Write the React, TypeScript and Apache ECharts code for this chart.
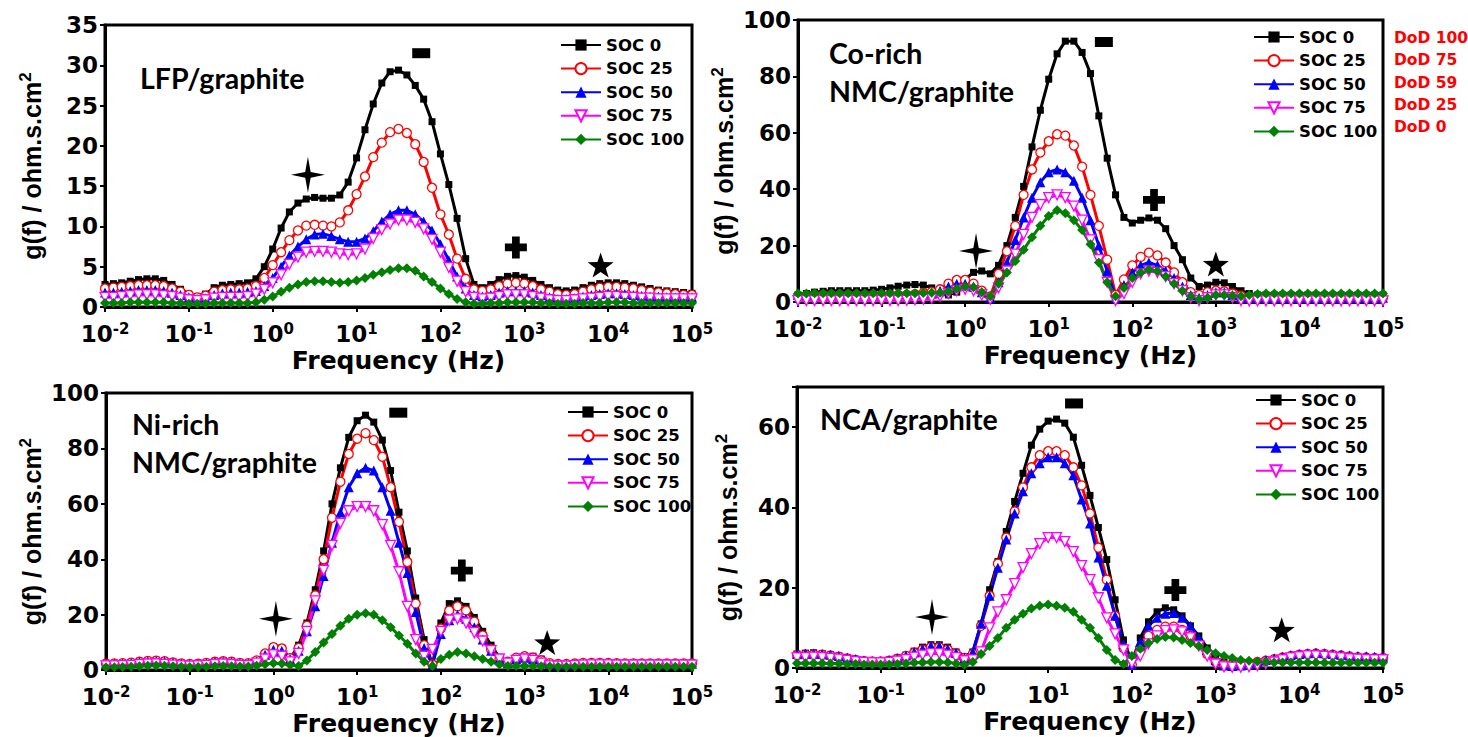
import React, { useEffect, useRef } from 'react';
import * as echarts from 'echarts';

// Frequency grid (Hz), 10 points per decade
const FREQ = [
  0.01, 0.0126, 0.0158, 0.02, 0.0251, 0.0316, 0.0398, 0.0501, 0.0631, 0.0794,
  0.1, 0.126, 0.158, 0.2, 0.251, 0.316, 0.398, 0.501, 0.631, 0.794,
  1, 1.26, 1.58, 2, 2.51, 3.16, 3.98, 5.01, 6.31, 7.94,
  10, 12.6, 15.8, 20, 25.1, 31.6, 39.8, 50.1, 63.1, 79.4,
  100, 126, 158, 200, 251, 316, 398, 501, 631, 794,
  1000, 1260, 1580, 2000, 2510, 3160, 3980, 5010, 6310, 7940,
  10000, 12600, 15800, 20000, 25100, 31600, 39800, 50100, 63100, 79400, 100000,
];

const SOC_NAMES = ['SOC 0', 'SOC 25', 'SOC 50', 'SOC 75', 'SOC 100'];
const DOD_LABELS = ['DoD 100', 'DoD 75', 'DoD 59', 'DoD 25', 'DoD 0'];
const X_NAME = 'Frequency (Hz)';
const Y_NAME = 'g(f) / ohm.s.cm{s|2}';
const Y_MAX = [35, 100, 100, 70];
const Y_INTERVAL = [5, 20, 20, 20];

// ---- LFP/graphite ----
const LFP_S0 = [
  2.8, 2.9, 3.0, 3.2, 3.4, 3.5, 3.5, 3.3, 2.8, 2.2,
  1.6, 1.3, 1.6, 2.4, 2.7, 2.8, 2.9, 3.0, 3.5, 5.0,
  7.2, 9.8, 11.8, 12.9, 13.4, 13.6, 13.5, 13.5, 13.9, 15.5,
  18.5, 22.0, 25.2, 27.8, 29.2, 29.4, 28.8, 27.5, 25.8, 23.0,
  19.0, 15.2, 11.0, 6.0, 2.8, 2.4, 2.8, 3.4, 3.8, 3.9,
  3.7, 3.3, 2.8, 2.4, 2.1, 2.0, 2.1, 2.4, 2.7, 2.9,
  3.0, 3.0, 2.9, 2.7, 2.5, 2.3, 2.1, 2.0, 1.9, 1.8, 1.7,
];
const LFP_S25 = [
  2.3, 2.4, 2.5, 2.6, 2.7, 2.7, 2.7, 2.6, 2.3, 1.9,
  1.5, 1.2, 1.4, 1.9, 2.1, 2.2, 2.2, 2.3, 2.6, 3.6,
  5.2, 6.8, 8.3, 9.5, 10.1, 10.2, 10.1, 10.0, 10.5, 12.0,
  14.0, 16.2, 18.6, 20.4, 21.7, 22.1, 21.6, 20.2, 18.0, 14.8,
  11.5, 9.0, 6.0, 3.5, 2.2, 2.0, 2.2, 2.6, 2.9, 3.0,
  2.9, 2.6, 2.2, 1.9, 1.6, 1.5, 1.6, 1.9, 2.2, 2.4,
  2.5, 2.5, 2.4, 2.3, 2.1, 1.9, 1.8, 1.7, 1.6, 1.5, 1.5,
];
const LFP_S50 = [
  1.8, 1.8, 1.9, 2.0, 2.1, 2.1, 2.1, 2.0, 1.8, 1.5,
  1.2, 1.0, 1.1, 1.5, 1.7, 1.8, 1.8, 1.9, 2.0, 2.6,
  3.6, 5.0, 6.4, 7.5, 8.4, 9.0, 9.1, 8.8, 8.4, 8.1,
  8.1, 8.5, 9.4, 10.6, 11.5, 12.0, 12.0, 11.5, 10.6, 9.5,
  7.8, 5.8, 3.8, 2.3, 1.5, 1.3, 1.5, 1.8, 2.0, 2.0,
  2.0, 1.8, 1.5, 1.2, 1.0, 1.0, 1.1, 1.3, 1.5, 1.6,
  1.7, 1.7, 1.6, 1.5, 1.4, 1.3, 1.3, 1.2, 1.2, 1.2, 1.2,
];
const LFP_S75 = [
  1.2, 1.2, 1.3, 1.4, 1.5, 1.5, 1.5, 1.4, 1.3, 1.1,
  0.9, 0.8, 0.9, 1.1, 1.2, 1.2, 1.2, 1.3, 1.6, 2.2,
  3.0, 4.0, 5.3, 6.2, 6.8, 6.9, 6.9, 6.8, 6.6, 6.5,
  6.6, 7.2, 8.5, 9.6, 10.3, 10.8, 10.8, 10.5, 9.7, 8.4,
  6.8, 4.9, 3.2, 1.9, 1.2, 1.0, 1.1, 1.3, 1.5, 1.5,
  1.5, 1.3, 1.1, 0.9, 0.8, 0.8, 0.9, 1.0, 1.1, 1.2,
  1.3, 1.3, 1.2, 1.2, 1.1, 1.1, 1.0, 1.0, 1.0, 1.0, 1.0,
];
const LFP_S100 = [
  0.5, 0.5, 0.5, 0.6, 0.6, 0.6, 0.6, 0.6, 0.5, 0.5,
  0.4, 0.4, 0.4, 0.5, 0.5, 0.5, 0.5, 0.5, 0.6, 0.9,
  1.3, 1.9, 2.4, 2.8, 3.1, 3.2, 3.2, 3.1, 3.0, 3.1,
  3.3, 3.6, 4.0, 4.3, 4.6, 4.8, 4.8, 4.5, 3.8, 3.1,
  2.3, 1.6, 1.0, 0.6, 0.4, 0.4, 0.5, 0.5, 0.6, 0.6,
  0.6, 0.6, 0.5, 0.5, 0.4, 0.4, 0.4, 0.5, 0.5, 0.5,
  0.6, 0.6, 0.6, 0.5, 0.5, 0.5, 0.5, 0.5, 0.5, 0.5, 0.5,
];

// ---- Co-rich NMC/graphite ----
const CO_S0 = [
  2.5, 3.0, 3.5, 3.8, 4.0, 4.0, 4.0, 4.0, 4.0, 4.2,
  4.5, 5.0, 5.6, 6.0, 6.2, 6.0, 5.0, 3.5, 2.5, 3.5,
  8.0, 10.5, 11.0, 10.0, 13.0, 20.0, 30.0, 41.0, 55.0, 68.0,
  79.0, 88.0, 92.5, 92.5, 88.5, 81.0, 66.0, 51.0, 38.0, 30.0,
  28.0, 29.0, 29.8, 29.0, 26.0, 20.0, 15.0, 8.5, 5.5, 6.0,
  7.0, 6.8, 5.5, 4.0, 3.0, 2.5, 2.5, 2.5, 2.5, 2.5,
  2.5, 2.5, 2.5, 2.5, 2.5, 2.5, 2.5, 2.5, 2.5, 2.5, 2.5,
];
const CO_S25 = [
  2.0, 2.2, 2.4, 2.5, 2.5, 2.5, 2.5, 2.5, 2.5, 2.5,
  2.5, 2.5, 2.5, 2.5, 2.8, 3.2, 3.6, 4.5, 6.5, 7.8,
  7.8, 6.5, 4.0, 2.0, 10.0, 18.0, 27.0, 38.0, 47.0, 53.0,
  57.0, 59.5, 59.0, 55.5, 48.0, 38.0, 27.0, 15.0, 2.5, 8.0,
  13.0, 16.0, 17.5, 16.5, 14.0, 10.5, 7.0, 3.5, 2.5, 3.5,
  4.0, 3.8, 3.0, 2.2, 1.8, 1.6, 1.5, 1.5, 1.5, 1.5,
  1.5, 1.5, 1.5, 1.5, 1.5, 1.5, 1.5, 1.5, 1.5, 1.5, 1.5,
];
const CO_S50 = [
  2.5, 2.6, 2.7, 2.8, 2.8, 2.8, 2.8, 2.8, 2.8, 2.8,
  2.8, 2.8, 2.8, 2.8, 2.9, 3.0, 3.3, 4.0, 5.5, 6.5,
  6.5, 5.5, 3.5, 1.5, 7.0, 14.0, 22.0, 30.0, 37.0, 42.5,
  46.0, 47.0, 46.0, 43.0, 37.0, 29.0, 20.0, 11.0, 1.5, 6.0,
  10.5, 13.0, 14.0, 13.0, 11.0, 8.5, 5.5, 2.5, 1.5, 2.5,
  3.5, 3.5, 2.5, 1.5, 1.5, 1.5, 1.5, 1.5, 1.5, 1.5,
  1.5, 1.5, 1.5, 1.5, 1.5, 1.5, 1.5, 1.5, 1.5, 1.5, 1.5,
];
const CO_S75 = [
  0.5, 0.5, 0.5, 0.5, 0.5, 0.5, 0.5, 0.5, 0.5, 0.5,
  0.5, 0.5, 0.5, 0.6, 0.8, 1.0, 1.3, 2.0, 3.0, 4.0,
  4.5, 4.0, 2.5, 1.0, 5.0, 11.0, 17.0, 24.0, 30.0, 34.5,
  37.0, 38.0, 37.0, 34.0, 29.0, 22.0, 15.0, 7.0, 0.5, 3.0,
  7.0, 10.0, 11.0, 10.5, 9.0, 6.5, 4.0, 1.5, 0.5, 1.5,
  2.5, 2.5, 1.5, 0.5, 0.4, 0.4, 0.4, 0.4, 0.4, 0.4,
  0.4, 0.4, 0.4, 0.4, 0.4, 0.4, 0.4, 0.4, 0.4, 0.4, 0.4,
];
const CO_S100 = [
  3.0, 3.0, 3.1, 3.1, 3.1, 3.1, 3.1, 3.1, 3.1, 3.1,
  3.1, 3.1, 3.1, 3.1, 3.1, 3.2, 3.3, 3.3, 3.8, 4.8,
  5.5, 5.2, 3.5, 2.0, 6.5, 10.5, 14.5, 18.5, 23.0, 27.0,
  30.5, 32.5, 31.5, 29.0, 25.5, 20.5, 14.0, 7.0, 2.0, 5.0,
  8.5, 10.5, 11.5, 11.0, 9.0, 6.5, 4.0, 2.0, 1.0, 1.5,
  2.5, 2.5, 2.2, 2.0, 2.5, 2.8, 3.0, 3.0, 3.0, 3.0,
  3.0, 3.0, 3.0, 3.0, 3.0, 3.0, 3.0, 3.0, 3.0, 3.0, 3.0,
];

// ---- Ni-rich NMC/graphite ----
const NI_S0 = [
  2.5, 2.5, 2.6, 2.8, 3.2, 3.5, 3.6, 3.4, 3.0, 2.6,
  2.4, 2.5, 2.8, 3.2, 3.4, 3.2, 2.8, 2.7, 3.5, 6.0,
  8.5, 8.0, 4.0, 9.0, 17.0, 29.0, 43.0, 60.0, 73.0, 84.0,
  90.0, 92.0, 89.5, 83.0, 72.0, 57.0, 43.0, 26.0, 11.0, 2.0,
  17.0, 24.0, 25.0, 23.0, 19.0, 14.0, 9.0, 4.5, 3.0, 4.5,
  5.0, 5.0, 4.0, 2.5, 2.3, 2.3, 2.5, 2.7, 2.8, 2.8,
  2.7, 2.6, 2.5, 2.5, 2.5, 2.5, 2.5, 2.5, 2.5, 2.5, 2.5,
];
const NI_S25 = [
  2.3, 2.4, 2.5, 2.7, 3.0, 3.3, 3.4, 3.2, 2.8, 2.4,
  2.2, 2.3, 2.6, 3.0, 3.2, 3.0, 2.6, 2.5, 3.5, 6.0,
  8.3, 7.8, 4.3, 8.0, 16.0, 27.0, 40.0, 55.0, 68.0, 78.0,
  83.5, 85.5, 83.0, 77.0, 66.0, 53.5, 39.0, 24.0, 9.0, 2.0,
  15.0, 21.5, 23.0, 21.5, 17.5, 12.5, 7.5, 4.0, 3.0, 4.5,
  5.0, 4.5, 3.5, 2.5, 2.2, 2.2, 2.4, 2.6, 2.6, 2.6,
  2.6, 2.5, 2.4, 2.4, 2.4, 2.4, 2.4, 2.4, 2.4, 2.4, 2.4,
];
const NI_S50 = [
  2.2, 2.3, 2.4, 2.6, 2.9, 3.2, 3.3, 3.1, 2.7, 2.3,
  2.1, 2.2, 2.5, 2.9, 3.1, 2.9, 2.5, 2.4, 3.2, 5.5,
  7.3, 7.0, 4.0, 7.0, 14.0, 23.0, 34.0, 46.0, 57.0, 66.0,
  71.0, 73.0, 72.0, 66.0, 57.5, 46.0, 35.0, 21.0, 8.0, 2.0,
  13.0, 18.0, 20.0, 18.5, 15.5, 11.0, 7.0, 4.0, 2.5, 4.0,
  4.5, 4.0, 3.0, 2.2, 2.0, 2.0, 2.2, 2.4, 2.5, 2.5,
  2.5, 2.4, 2.3, 2.3, 2.3, 2.3, 2.3, 2.3, 2.3, 2.3, 2.3,
];
const NI_S75 = [
  1.5, 1.5, 1.6, 1.7, 2.0, 2.2, 2.3, 2.1, 1.8, 1.5,
  1.4, 1.5, 1.7, 2.0, 2.2, 2.0, 1.7, 1.6, 2.5, 4.0,
  5.5, 5.0, 3.0, 6.0, 14.0, 25.0, 36.0, 45.0, 53.0, 57.5,
  59.0, 59.0, 57.5, 52.5, 45.0, 35.5, 23.0, 11.0, 5.0, 7.5,
  14.0, 18.0, 18.5, 17.0, 13.5, 10.5, 7.0, 4.0, 2.5, 3.5,
  4.0, 3.5, 2.5, 1.5, 1.4, 1.4, 1.6, 1.8, 1.9, 1.9,
  1.9, 1.8, 1.8, 1.8, 1.8, 1.8, 1.8, 1.8, 1.8, 1.8, 1.8,
];
const NI_S100 = [
  1.0, 1.0, 1.1, 1.2, 1.4, 1.6, 1.7, 1.6, 1.4, 1.2,
  1.1, 1.1, 1.2, 1.4, 1.5, 1.4, 1.3, 1.3, 1.6, 2.1,
  2.5, 2.4, 1.8, 1.5, 3.5, 6.5, 10.0, 13.0, 16.0, 18.5,
  20.0, 20.5, 20.0, 18.0, 15.5, 12.5, 9.5, 6.0, 3.0, 1.5,
  4.0, 5.5, 6.5, 6.0, 5.0, 4.0, 3.0, 2.0, 1.5, 1.5,
  1.5, 1.5, 1.4, 1.3, 1.2, 1.2, 1.2, 1.2, 1.2, 1.2,
  1.2, 1.2, 1.2, 1.2, 1.2, 1.2, 1.2, 1.2, 1.2, 1.2, 1.2,
];

// ---- NCA/graphite ----
const NCA_S0 = [
  3.5, 3.7, 3.8, 3.6, 3.3, 3.0, 2.6, 2.2, 1.9, 1.8,
  1.8, 2.0, 2.5, 3.2, 4.2, 5.2, 5.8, 5.8, 5.2, 4.0,
  2.8, 4.0, 11.0, 19.5, 26.5, 34.0, 41.5, 48.5, 55.5, 59.5,
  61.5, 62.0, 61.0, 57.5, 50.5, 43.0, 35.0, 27.0, 17.0, 7.0,
  1.5, 7.5, 11.5, 14.0, 15.0, 14.5, 13.0, 10.5, 8.0, 5.0,
  2.5, 1.5, 1.2, 1.2, 1.3, 1.5, 1.8, 2.2, 2.6, 3.0,
  3.3, 3.5, 3.6, 3.5, 3.3, 3.1, 2.9, 2.7, 2.6, 2.5, 2.5,
];
const NCA_S25 = [
  3.2, 3.3, 3.4, 3.3, 3.1, 2.8, 2.4, 2.0, 1.7, 1.6,
  1.6, 1.8, 2.3, 3.0, 3.8, 4.6, 5.2, 5.2, 4.6, 3.6,
  2.5, 3.5, 10.5, 18.0, 26.0, 32.5, 39.0, 45.0, 50.0, 53.0,
  54.0, 54.0, 53.0, 50.0, 45.5, 38.5, 30.0, 22.0, 13.0, 5.0,
  0.8, 5.0, 8.0, 9.5, 10.3, 10.3, 9.5, 8.0, 6.0, 3.5,
  1.5, 0.8, 0.8, 1.0, 1.2, 1.5, 1.8, 2.2, 2.6, 3.0,
  3.3, 3.5, 3.6, 3.5, 3.3, 3.1, 2.9, 2.7, 2.6, 2.5, 2.5,
];
const NCA_S50 = [
  3.5, 3.6, 3.6, 3.5, 3.3, 3.0, 2.6, 2.2, 1.9, 1.7,
  1.7, 1.9, 2.4, 3.1, 4.0, 4.8, 5.5, 5.5, 4.8, 3.8,
  2.5, 4.0, 11.0, 18.0, 25.0, 32.0, 38.5, 44.0, 48.5, 51.0,
  52.5, 52.5, 51.0, 48.0, 42.0, 36.0, 27.5, 20.5, 13.0, 6.0,
  0.8, 6.5, 10.5, 12.5, 13.5, 13.7, 12.5, 10.5, 7.5, 4.5,
  2.0, 0.6, 0.5, 0.6, 1.0, 1.5, 2.0, 2.4, 2.8, 3.2,
  3.5, 3.7, 3.8, 3.7, 3.5, 3.3, 3.1, 3.0, 2.9, 2.8, 2.8,
];
const NCA_S75 = [
  2.5, 2.6, 2.7, 2.6, 2.4, 2.2, 1.9, 1.6, 1.4, 1.3,
  1.3, 1.4, 1.7, 2.1, 2.7, 3.2, 3.6, 3.6, 3.2, 2.6,
  1.8, 2.0, 4.0, 10.0, 14.0, 17.0, 21.0, 25.0, 28.5, 31.0,
  32.5, 32.5, 31.5, 29.0, 25.5, 22.0, 17.5, 12.5, 8.5, 4.5,
  1.2, 3.0, 6.0, 8.0, 9.3, 9.5, 9.0, 7.5, 5.5, 3.0,
  1.0, 0.3, 0.2, 0.2, 0.3, 0.6, 1.0, 1.5, 2.0, 2.5,
  2.8, 3.0, 3.0, 2.9, 2.7, 2.5, 2.3, 2.2, 2.1, 2.0, 2.0,
];
const NCA_S100 = [
  1.2, 1.2, 1.2, 1.2, 1.1, 1.1, 1.0, 1.0, 0.9, 0.9,
  0.9, 0.9, 1.0, 1.1, 1.3, 1.4, 1.5, 1.5, 1.4, 1.1,
  0.8, 1.5, 3.5, 5.5, 7.5, 10.0, 12.0, 13.5, 14.8, 15.5,
  15.8, 15.5, 15.0, 14.0, 12.0, 10.0, 7.5, 4.5, 2.0, 1.0,
  3.0, 4.8, 6.2, 7.2, 7.7, 7.6, 7.0, 6.2, 5.5, 4.5,
  3.7, 3.0, 2.5, 2.0, 1.8, 1.6, 1.5, 1.4, 1.4, 1.4,
  1.4, 1.4, 1.4, 1.3, 1.3, 1.3, 1.3, 1.3, 1.3, 1.3, 1.3,
];

// peak-assignment marks: [frequency, g(f)] for ✦, ▬, ✚, ★
const MARKS_LFP = [[2.63, 16.4], [59, 31.5], [794, 7.4], [8130, 5.2]];
const MARKS_CO = [[1.35, 18.1], [45.7, 92.2], [182, 36.2], [1000, 13.5]];
const MARKS_NI = [[1.07, 18.5], [31, 92.9], [178, 35.9], [1862, 10.0]];
const MARKS_NCA = [[0.41, 12.7], [20.4, 65.9], [331, 19.4], [6166, 9.5]];

const PANEL_DATA = [
  [LFP_S0, LFP_S25, LFP_S50, LFP_S75, LFP_S100],
  [CO_S0, CO_S25, CO_S50, CO_S75, CO_S100],
  [NI_S0, NI_S25, NI_S50, NI_S75, NI_S100],
  [NCA_S0, NCA_S25, NCA_S50, NCA_S75, NCA_S100],
];
const PANEL_MARKS = [MARKS_LFP, MARKS_CO, MARKS_NI, MARKS_NCA];

// layout / style
const GRIDS = [
  { left: 105, top: 25, width: 587, height: 282 },
  { left: 798, top: 20, width: 585, height: 282 },
  { left: 106, top: 393, width: 586, height: 281 },
  { left: 797, top: 387, width: 586, height: 281 },
];
const LEGEND_POS = [
  { left: 560, top: 35 },
  { left: 1253, top: 27 },
  { left: 567, top: 402 },
  { left: 1255, top: 390 },
];
const Y_NAME_GAP = [58, 52, 58, 54];
const STYLES = [
  { color: '#000000', symbol: 'rect', size: 7, fill: '#000000', rotate: 0 },
  { color: '#ff0000', symbol: 'circle', size: 9, fill: '#ffffff', rotate: 0 },
  { color: '#0000ff', symbol: 'triangle', size: 10, fill: '#0000ff', rotate: 0 },
  { color: '#ff00ff', symbol: 'triangle', size: 10, fill: '#ffffff', rotate: 180 },
  { color: '#008000', symbol: 'diamond', size: 10, fill: '#008000', rotate: 0 },
];
const MARK_SYMBOLS = [
  { symbol: 'path://M0,-10 L1.6,-1.6 L10,0 L1.6,1.6 L0,10 L-1.6,1.6 L-10,0 L-1.6,-1.6 Z', size: [34, 36] },
  { symbol: 'rect', size: [18, 10] },
  { symbol: 'path://M-3.5,-10 H3.5 V-3.5 H10 V3.5 H3.5 V10 H-3.5 V3.5 H-10 V-3.5 H-3.5 Z', size: [22, 22] },
  { symbol: 'path://M0,-10 L2.35,-3.24 L9.51,-3.09 L3.8,1.24 L5.88,8.09 L0,4 L-5.88,8.09 L-3.8,1.24 L-9.51,-3.09 L-2.35,-3.24 Z', size: [26, 25] },
];

const FONT = 'DejaVu Sans';

function buildOption() {
  const grid = GRIDS.map((g) => ({ ...g, show: true, borderColor: '#000', borderWidth: 3, backgroundColor: 'transparent' }));
  const xAxis = GRIDS.map((_, k) => ({
    gridIndex: k,
    type: 'log',
    logBase: 10,
    min: 0.01,
    max: 100000,
    axisLine: { show: true, lineStyle: { color: '#000', width: 3 } },
    axisTick: { show: true, length: 5, lineStyle: { color: '#000', width: 2 } },
    splitLine: { show: false },
    axisLabel: {
      color: '#000',
      fontSize: 23,
      fontWeight: 'bold',
      fontFamily: FONT,
      lineHeight: 26,
      margin: 14,
      formatter: (v: number) => '10{s|' + Math.round(Math.log10(v)) + '}',
      rich: {
        s: { fontSize: 15, fontWeight: 'bold', fontFamily: FONT, color: '#000', lineHeight: 10, verticalAlign: 'top' },
      },
    },
    name: X_NAME,
    nameLocation: 'middle',
    nameGap: 36,
    nameTextStyle: { color: '#000', fontSize: 25, fontWeight: 'bold', fontFamily: FONT },
  }));
  const yAxis = GRIDS.map((_, k) => ({
    gridIndex: k,
    type: 'value',
    min: 0,
    max: Y_MAX[k],
    interval: Y_INTERVAL[k],
    axisLine: { show: true, lineStyle: { color: '#000', width: 3 } },
    axisTick: { show: true, length: 5, lineStyle: { color: '#000', width: 2 } },
    splitLine: { show: false },
    axisLabel: {
      color: '#000',
      fontSize: 23,
      fontWeight: 'bold',
      fontFamily: FONT,
      lineHeight: 20,
      margin: 7,
      formatter: (v: number) => (v % Y_INTERVAL[k] === 0 ? String(v) : ''),
    },
    name: Y_NAME,
    nameLocation: 'middle',
    nameGap: Y_NAME_GAP[k],
    nameTextStyle: {
      color: '#000',
      fontSize: 25,
      fontWeight: 'bold',
      fontFamily: 'Liberation Sans',
      lineHeight: 30,
      rich: {
        s: { fontSize: 17, fontWeight: 'bold', fontFamily: 'Liberation Sans', color: '#000', lineHeight: 12, verticalAlign: 'top' },
      },
    },
  }));

  const series: any[] = [];
  PANEL_DATA.forEach((panel, k) => {
    panel.forEach((arr, j) => {
      const st = STYLES[j];
      series.push({
        name: SOC_NAMES[j],
        type: 'line',
        xAxisIndex: k,
        yAxisIndex: k,
        data: FREQ.map((f, i) => [f, arr[i]]),
        symbol: st.symbol,
        symbolSize: st.size,
        symbolRotate: st.rotate,
        showSymbol: true,
        showAllSymbol: true,
        lineStyle: { color: st.color, width: 3 },
        itemStyle: { color: st.fill, borderColor: st.color, borderWidth: st.fill === '#ffffff' ? 1.3 : 0 },
        emphasis: { disabled: true },
      });
    });
    series.push({
      name: 'marks' + k,
      type: 'scatter',
      xAxisIndex: k,
      yAxisIndex: k,
      silent: true,
      z: 5,
      itemStyle: { color: '#000', opacity: 1 },
      data: PANEL_MARKS[k].map((m, i) => ({
        value: m,
        symbol: MARK_SYMBOLS[i].symbol,
        symbolSize: MARK_SYMBOLS[i].size,
        itemStyle: { color: '#000', opacity: 1 },
      })),
    });
  });

  const legend = LEGEND_POS.map((p) => ({
    left: p.left,
    top: p.top,
    orient: 'vertical',
    itemWidth: 40,
    itemHeight: 14,
    itemGap: 3.6,
    padding: 0,
    selectedMode: false,
    data: SOC_NAMES,
    textStyle: { color: '#000', fontSize: 16.5, fontWeight: 'bold', fontFamily: FONT, lineHeight: 20 },
  }));

  const titleStyle = { fill: '#000', fontSize: 28.5, fontWeight: 'bold', fontFamily: 'Lato', verticalAlign: 'middle' };
  const graphic: any[] = [
    { type: 'text', x: 140, y: 78, style: { ...titleStyle, text: 'LFP/graphite' } },
    { type: 'text', x: 829, y: 53, style: { ...titleStyle, text: 'Co-rich' } },
    { type: 'text', x: 829, y: 91, style: { ...titleStyle, text: 'NMC/graphite' } },
    { type: 'text', x: 132, y: 424, style: { ...titleStyle, text: 'Ni-rich' } },
    { type: 'text', x: 132, y: 462, style: { ...titleStyle, text: 'NMC/graphite' } },
    { type: 'text', x: 820, y: 419, style: { ...titleStyle, text: 'NCA/graphite' } },
  ];
  DOD_LABELS.forEach((t, i) => {
    graphic.push({
      type: 'text',
      x: 1394,
      y: 38 + i * 22.3,
      style: { text: t, fill: '#ff0000', fontSize: 15.5, fontWeight: 'bold', fontFamily: FONT, verticalAlign: 'middle' },
    });
  });

  return {
    animation: false,
    backgroundColor: '#ffffff',
    grid,
    xAxis,
    yAxis,
    legend,
    series,
    graphic,
  };
}

export default function App() {
  const ref = useRef<HTMLDivElement>(null);
  useEffect(() => {
    if (!ref.current) return;
    const chart = echarts.init(ref.current, undefined, { renderer: 'svg' });
    chart.setOption(buildOption() as any);
    return () => chart.dispose();
  }, []);
  return (
    <div
      ref={ref}
      style={{ position: 'fixed', left: 0, top: 0, width: 1468, height: 737, background: '#fff' }}
    />
  );
}
